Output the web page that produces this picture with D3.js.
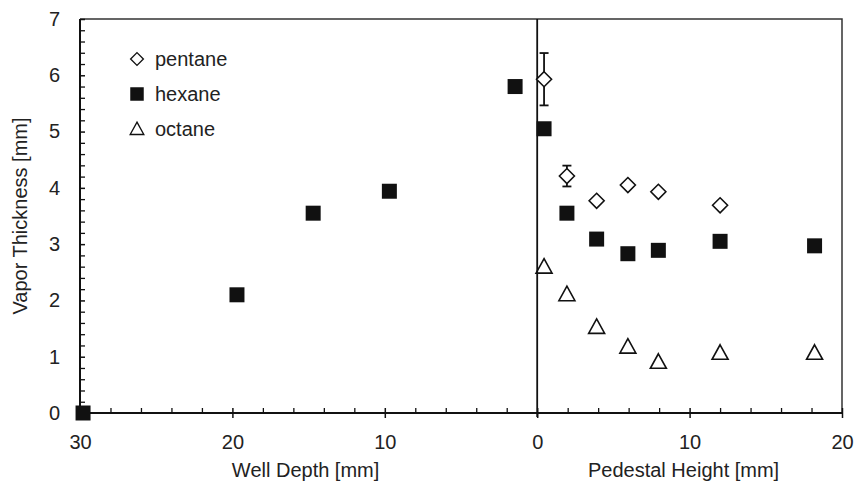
<!DOCTYPE html>
<html>
<head>
<meta charset="utf-8">
<script src="https://cdn.jsdelivr.net/npm/d3@7"></script>
<style>
  body { margin: 0; background: #fff; }
  svg { font-family: "Liberation Sans", Arial, sans-serif; }
</style>
</head>
<body>
<svg></svg>
<script>
// well depth is drawn to the left of zero, pedestal height to the right
const wellDepth = [29.8, 19.7, 14.7, 9.7, 1.45];
const hexaneWell = [0, 2.1, 3.55, 3.94, 5.8];

const pedestalHeight = [0.45, 1.95, 3.9, 5.95, 7.95, 12.0, 18.2];
const hexanePed = [5.05, 3.55, 3.09, 2.83, 2.89, 3.05, 2.97];
const octanePed = [2.6, 2.11, 1.53, 1.18, 0.91, 1.07, 1.07];

const pentaneHeight = [0.45, 1.95, 3.9, 5.95, 7.95, 12.0];
const pentanePed = [5.93, 4.21, 3.77, 4.05, 3.93, 3.69];
const pentaneErr = [0.465, 0.185, 0, 0, 0, 0];

const xTicks = [-30, -20, -10, 0, 10, 20];
const yTicks = [0, 1, 2, 3, 4, 5, 6, 7];
const seriesNames = ["pentane", "hexane", "octane"];

const width = 855, height = 482;
const fs = 20;
const svg = d3.select("svg").attr("width", width).attr("height", height);

const x = d3.scaleLinear().domain([-30, 20]).range([80, 842]);
const y = d3.scaleLinear().domain([0, 7]).range([413, 19]);
const ink = "#111";

// frame: top and right
svg.append("path")
    .attr("d", `M${x(-30)},${y(7)}H${x(20)}V${y(0)}`)
    .attr("fill", "none").attr("stroke", "#333").attr("stroke-width", 1.5);

// vertical zero line
svg.append("line")
    .attr("x1", x(0)).attr("x2", x(0))
    .attr("y1", y(7)).attr("y2", y(0) + 4)
    .attr("stroke", ink).attr("stroke-width", 1.8);

// minor ticks
const xMinor = d3.range(-30, 20.01, 2).filter(d => d % 10 !== 0);
const yMinor = d3.range(0, 7.01, 0.2).map(d => +d.toFixed(1)).filter(d => d % 1 !== 0);

svg.append("g")
    .attr("transform", `translate(0,${y(0)})`)
    .call(d3.axisTop(x).tickValues(xMinor).tickSize(5).tickFormat(""))
    .call(g => g.select(".domain").remove())
    .call(g => g.selectAll("line").attr("stroke", ink).attr("stroke-width", 1.3));

svg.append("g")
    .attr("transform", `translate(${x(-30)},0)`)
    .call(d3.axisRight(y).tickValues(yMinor).tickSize(5).tickFormat(""))
    .call(g => g.select(".domain").remove())
    .call(g => g.selectAll("line").attr("stroke", ink).attr("stroke-width", 1.3));

// x axis
const xAxis = svg.append("g")
    .attr("transform", `translate(0,${y(0)})`)
    .call(d3.axisBottom(x).tickValues(xTicks).tickSize(5).tickPadding(17)
        .tickFormat(d => Math.abs(d)));
xAxis.select(".domain").attr("d", `M${x(-30)},0H${x(20)}`)
    .attr("stroke", ink).attr("stroke-width", 2);
xAxis.selectAll(".tick line").attr("y1", -5).attr("stroke", ink).attr("stroke-width", 1.5);
xAxis.selectAll(".tick text").attr("font-size", fs).attr("fill", "#222");

// y axis
const yAxis = svg.append("g")
    .attr("transform", `translate(${x(-30)},0)`)
    .call(d3.axisLeft(y).tickValues(yTicks).tickFormat(d3.format("d"))
        .tickSize(6).tickPadding(14));
yAxis.select(".domain").attr("d", `M0,${y(7)}V${y(0)}`)
    .attr("stroke", ink).attr("stroke-width", 2);
yAxis.selectAll(".tick line").attr("x2", 5).attr("stroke", ink).attr("stroke-width", 1.5);
yAxis.selectAll(".tick text").attr("font-size", fs).attr("fill", "#222");

// axis titles
svg.append("text")
    .attr("x", (x(-30) + x(0)) / 2 - 3).attr("y", 477)
    .attr("text-anchor", "middle").attr("font-size", fs).attr("fill", "#222")
    .text("Well Depth [mm]");
svg.append("text")
    .attr("x", (x(0) + x(20)) / 2 - 6).attr("y", 477)
    .attr("text-anchor", "middle").attr("font-size", fs).attr("fill", "#222")
    .text("Pedestal Height [mm]");
svg.append("text")
    .attr("transform", `translate(27,${(y(0) + y(7)) / 2}) rotate(-90)`)
    .attr("text-anchor", "middle").attr("font-size", fs).attr("fill", "#222")
    .text("Vapor Thickness [mm]");

// markers
const sq = d3.symbol().type(d3.symbolSquare).size(225);
const dia = "M0,-7.5L7.5,0L0,7.5L-7.5,0Z";
const tri = "M0,-8L8,6.5H-8Z";

function squares(xs, ys, sign) {
    svg.append("g").selectAll("path")
        .data(xs.map((d, i) => [sign * d, ys[i]]))
        .join("path")
        .attr("transform", d => `translate(${x(d[0])},${y(d[1])})`)
        .attr("d", sq).attr("fill", ink);
}
squares(wellDepth, hexaneWell, -1);
squares(pedestalHeight, hexanePed, 1);

// pentane error bars
const eb = svg.append("g").attr("stroke", ink).attr("stroke-width", 1.8);
pentaneHeight.forEach((h, i) => {
    const e = pentaneErr[i];
    if (!e) return;
    const cx = x(h), top = y(pentanePed[i] + e), bot = y(pentanePed[i] - e);
    eb.append("line").attr("x1", cx).attr("x2", cx).attr("y1", top).attr("y2", bot);
    eb.append("line").attr("x1", cx - 4.5).attr("x2", cx + 4.5).attr("y1", top).attr("y2", top);
    eb.append("line").attr("x1", cx - 4.5).attr("x2", cx + 4.5).attr("y1", bot).attr("y2", bot);
});

svg.append("g").selectAll("path")
    .data(pentaneHeight.map((d, i) => [d, pentanePed[i]]))
    .join("path")
    .attr("transform", d => `translate(${x(d[0])},${y(d[1])})`)
    .attr("d", dia).attr("fill", "#fff").attr("stroke", ink).attr("stroke-width", 1.6);

svg.append("g").selectAll("path")
    .data(pedestalHeight.map((d, i) => [d, octanePed[i]]))
    .join("path")
    .attr("transform", d => `translate(${x(d[0])},${y(d[1])})`)
    .attr("d", tri).attr("fill", "none").attr("stroke", ink).attr("stroke-width", 1.6);

// legend
const legend = svg.append("g").attr("transform", "translate(137,59)");
const shapes = [dia, sq(), tri];
seriesNames.forEach((name, i) => {
    const row = legend.append("g").attr("transform", `translate(0,${i * 35})`);
    row.append("path").attr("d", shapes[i])
        .attr("transform", i === 1 ? "scale(0.9)" : "scale(0.85)")
        .attr("fill", i === 1 ? ink : "#fff")
        .attr("stroke", i === 1 ? "none" : ink).attr("stroke-width", 1.6);
    row.append("text").attr("x", 18).attr("y", 7)
        .attr("font-size", fs).attr("fill", "#222").text(name);
});
</script>
</body>
</html>
